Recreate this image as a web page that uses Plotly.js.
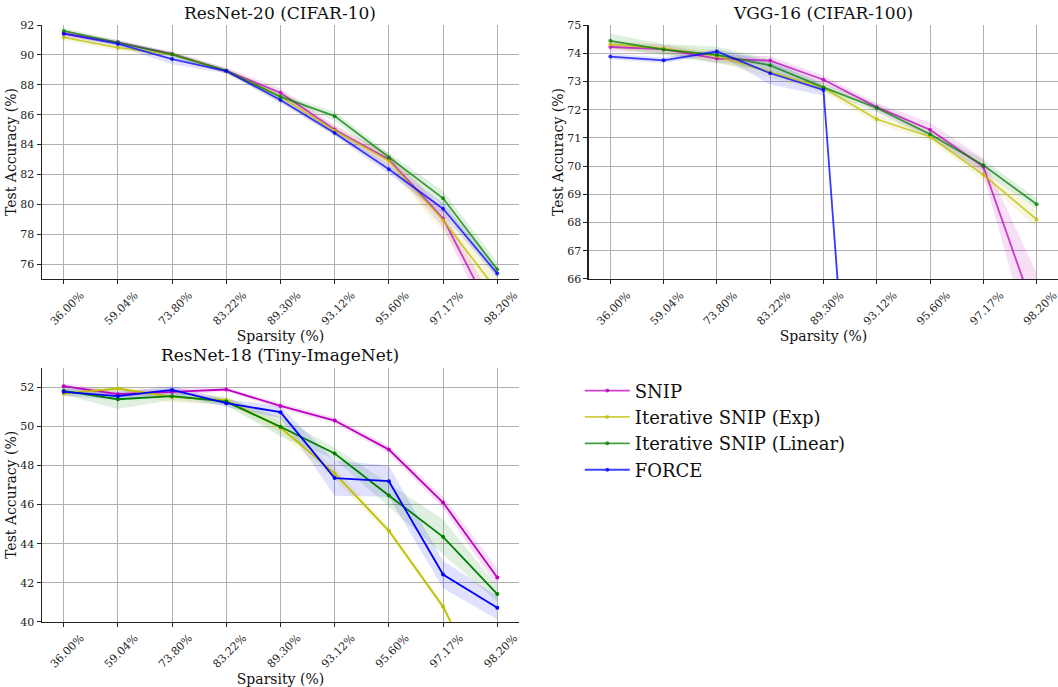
<!DOCTYPE html>
<html>
<head>
<meta charset="utf-8">
<script src="https://cdn.plot.ly/plotly-3.0.1.min.js"></script>
<style>html,body{margin:0;padding:0;background:#fff;}#chart{width:1058px;height:687px;}</style>
</head>
<body>
<div id="chart"></div>
<script>
const sparsity = ["36.00%","59.04%","73.80%","83.22%","89.30%","93.12%","95.60%","97.17%","98.20%"];
const methods = ["SNIP","Iterative SNIP (Exp)","Iterative SNIP (Linear)","FORCE"];
const colors = ["191,0,191","191,191,0","0,128,0","0,0,255"];

// ResNet-20 (CIFAR-10)
const r20_snip   = [91.44,90.84,90.06,88.94,87.47,85.00,83.00,79.05,72.0];
const r20_exp    = [91.17,90.48,90.04,88.92,87.20,84.93,82.90,78.94,74.2];
const r20_linear = [91.60,90.84,90.04,88.94,87.20,85.90,83.14,80.40,75.64];
const r20_force  = [91.42,90.73,89.72,88.92,86.98,84.77,82.34,79.70,75.37];
const r20_snip_std   = [0.2,0.15,0.15,0.2,0.3,0.3,0.4,0.6,1.0];
const r20_exp_std    = [0.2,0.2,0.2,0.2,0.4,0.3,0.5,0.8,1.0];
const r20_linear_std = [0.2,0.15,0.15,0.15,0.2,0.3,0.3,0.5,0.5];
const r20_force_std  = [0.15,0.15,0.35,0.15,0.2,0.2,0.3,0.4,0.3];

// VGG-16 (CIFAR-100)
const vgg_snip   = [74.22,74.15,73.81,73.74,73.06,72.09,71.29,69.98,64.6];
const vgg_exp    = [74.31,74.17,73.90,73.33,72.77,71.66,71.04,69.69,68.11];
const vgg_linear = [74.44,74.13,73.94,73.57,72.79,72.06,71.13,70.03,68.65];
const vgg_force  = [73.88,73.75,74.06,73.29,72.70,47.2,44.0,40.0,35.0];
const vgg_snip_std   = [0.15,0.15,0.15,0.15,0.15,0.15,0.25,0.3,1.6];
const vgg_exp_std    = [0.15,0.15,0.2,0.2,0.15,0.15,0.15,0.2,0.3];
const vgg_linear_std = [0.25,0.2,0.3,0.2,0.15,0.15,0.15,0.2,0.2];
const vgg_force_std  = [0.1,0.1,0.1,0.4,0.2,1.0,1.0,1.0,1.0];

// ResNet-18 (Tiny-ImageNet)
const r18_snip   = [52.07,51.66,51.78,51.90,51.06,50.31,48.82,46.11,42.27];
const r18_exp    = [51.69,51.95,51.52,51.35,49.95,47.60,44.66,40.77,35.2];
const r18_linear = [51.83,51.40,51.56,51.28,49.99,48.62,46.47,44.35,41.42];
const r18_force  = [51.78,51.56,51.88,51.20,50.74,47.36,47.20,42.42,40.72];
const r18_snip_std   = [0.15,0.15,0.2,0.1,0.15,0.15,0.2,0.3,0.5];
const r18_exp_std    = [0.15,0.1,0.3,0.2,0.3,0.3,0.2,0.2,0.3];
const r18_linear_std = [0.2,0.5,0.2,0.2,0.5,0.3,0.6,0.9,0.4];
const r18_force_std  = [0.2,0.2,0.2,0.2,0.3,0.9,0.8,0.7,0.6];

const panels = [
  {xa:"x", ya:"y", series:[r20_snip,r20_exp,r20_linear,r20_force], stds:[r20_snip_std,r20_exp_std,r20_linear_std,r20_force_std], op:0.75, legend:true},
  {xa:"x2", ya:"y2", series:[vgg_snip,vgg_exp,vgg_linear,vgg_force], stds:[vgg_snip_std,vgg_exp_std,vgg_linear_std,vgg_force_std], op:0.75, legend:false},
  {xa:"x3", ya:"y3", series:[r18_snip,r18_exp,r18_linear,r18_force], stds:[r18_snip_std,r18_exp_std,r18_linear_std,r18_force_std], op:1.0, legend:false}
];

const idx = sparsity.map((_, i) => i);
const traces = [];
panels.forEach(p => {
  p.series.forEach((s, k) => {
    const up = s.map((v, i) => v + p.stds[k][i]);
    const lo = s.map((v, i) => v - p.stds[k][i]);
    traces.push({
      x: idx.concat(idx.slice().reverse()),
      y: up.concat(lo.slice().reverse()),
      xaxis: p.xa, yaxis: p.ya,
      type: "scatter", mode: "lines", fill: "toself",
      fillcolor: "rgba(" + colors[k] + ",0.12)",
      line: {width: 0, color: "rgba(0,0,0,0)"},
      hoverinfo: "skip", showlegend: false
    });
  });
  p.series.forEach((s, k) => {
    traces.push({
      x: idx, y: s, xaxis: p.xa, yaxis: p.ya,
      type: "scatter", mode: "lines+markers", name: methods[k],
      line: {color: "rgba(" + colors[k] + "," + p.op + ")", width: 1.8},
      marker: {color: "rgba(" + colors[k] + "," + p.op + ")", size: 4},
      showlegend: p.legend
    });
  });
});

const font = "DejaVu Serif, serif";
function xaxis(domain, anchor) {
  return {
    domain: domain, anchor: anchor, range: [-0.4, 8.4],
    tickvals: idx, ticktext: sparsity, tickangle: -45, ticklabelshift: 17,
    ticklabeloverflow: "allow",
    tickfont: {family: font, size: 11, color: "#222"},
    showgrid: true, gridcolor: "#b0b0b0", gridwidth: 1,
    showline: true, linecolor: "#222", linewidth: 1.5, mirror: false,
    ticks: "outside", ticklen: 4, tickcolor: "#222", zeroline: false,
    title: {text: "Sparsity (%)", font: {family: font, size: 14, color: "#111"}, standoff: 1}
  };
}
function yaxis(domain, anchor, range, dtick) {
  return {
    domain: domain, anchor: anchor, range: range, dtick: dtick,
    tickfont: {family: font, size: 11, color: "#222"},
    showgrid: true, gridcolor: "#b0b0b0", gridwidth: 1,
    showline: true, linecolor: "#222", linewidth: 1.5, mirror: false,
    ticks: "outside", ticklen: 4, tickcolor: "#222", zeroline: false,
    title: {text: "Test Accuracy (%)", font: {family: font, size: 14, color: "#111"}, standoff: 0}
  };
}

const layout = {
  width: 1058, height: 687,
  margin: {l: 0, r: 0, t: 0, b: 0},
  font: {family: font, color: "#111"},
  paper_bgcolor: "#fff", plot_bgcolor: "#fff",
  showlegend: true,
  xaxis: xaxis([0.0397, 0.4905], "y"),
  yaxis: yaxis([0.5939, 0.9636], "x", [75, 92], 2),
  xaxis2: xaxis([0.5567, 1.0], "y2"),
  yaxis2: yaxis([0.5939, 0.9636], "x2", [66, 75], 1),
  xaxis3: xaxis([0.0397, 0.4905], "y3"),
  yaxis3: yaxis([0.0950, 0.4643], "x3", [40, 53], 2),
  legend: {x: 0.548, y: 0.458, xanchor: "left", yanchor: "top", itemwidth: 45,
           font: {family: font, size: 18, color: "#111"}, bgcolor: "rgba(0,0,0,0)"},
  annotations: [
    {text: "ResNet-20 (CIFAR-10)", x: 280/1058, y: 1 - 13/687, xref: "paper", yref: "paper", showarrow: false, xanchor: "center", yanchor: "middle", font: {family: font, size: 17, color: "#111"}},
    {text: "VGG-16 (CIFAR-100)", x: 823/1058, y: 1 - 13/687, xref: "paper", yref: "paper", showarrow: false, xanchor: "center", yanchor: "middle", font: {family: font, size: 17, color: "#111"}},
    {text: "ResNet-18 (Tiny-ImageNet)", x: 280/1058, y: 1 - 355/687, xref: "paper", yref: "paper", showarrow: false, xanchor: "center", yanchor: "middle", font: {family: font, size: 17, color: "#111"}}
  ]
};

Plotly.newPlot("chart", traces, layout, {displayModeBar: false, staticPlot: true});
</script>
</body>
</html>
